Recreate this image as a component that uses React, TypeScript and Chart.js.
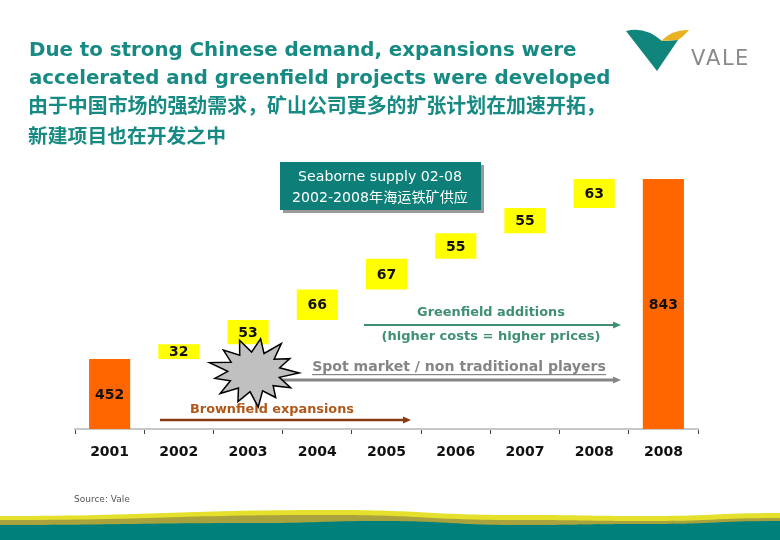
import React, { useEffect, useRef } from 'react';
import { Chart, registerables } from 'chart.js';
Chart.register(...registerables);

const categories = ['2001', '2002', '2003', '2004', '2005', '2006', '2007', '2008', '2008'];
const startTotal = 452;
const increments = [32, 53, 66, 67, 55, 55, 63];
const endTotal = 843;
const axisMin = 300;
const titleLines = [
  'Due to strong Chinese demand, expansions were',
  'accelerated and greenfield projects were developed',
];
const titleLinesZh = ['由于中国市场的强劲需求，矿山公司更多的扩张计划在加速开拓，', '新建项目也在开发之中'];
const boxLines = ['Seaborne supply 02-08', '2002-2008年海运铁矿供应'];

const TEAL = '#178a83';
const ORANGE = '#ff6600';
const YELLOW = '#ffff00';

function buildRanges() {
  const ranges: [number, number][] = [[axisMin, startTotal]];
  let run = startTotal;
  for (const inc of increments) {
    ranges.push([run, run + inc]);
    run += inc;
  }
  ranges.push([axisMin, endTotal]);
  return ranges;
}
const valueLabels = [startTotal, ...increments, endTotal];

function fitText(ctx: CanvasRenderingContext2D, text: string, x: number, y: number, width: number, weight: string, family: string) {
  ctx.font = `${weight} 20px ${family}`;
  const w = ctx.measureText(text).width;
  const size = (20 * width) / w;
  ctx.font = `${weight} ${size}px ${family}`;
  ctx.fillText(text, x, y);
}

function arrowLine(ctx: CanvasRenderingContext2D, x1: number, x2: number, y: number, color: string, lw: number) {
  ctx.save();
  ctx.strokeStyle = color;
  ctx.fillStyle = color;
  ctx.lineWidth = lw;
  ctx.beginPath();
  ctx.moveTo(x1, y);
  ctx.lineTo(x2 - 6, y);
  ctx.stroke();
  ctx.beginPath();
  ctx.moveTo(x2, y);
  ctx.lineTo(x2 - 8, y - 3.5);
  ctx.lineTo(x2 - 8, y + 3.5);
  ctx.closePath();
  ctx.fill();
  ctx.restore();
}

function wave(ctx: CanvasRenderingContext2D, color: string, pts: [number, number][]) {
  ctx.fillStyle = color;
  ctx.beginPath();
  ctx.moveTo(pts[0][0], pts[0][1]);
  for (let i = 1; i < pts.length; i++) {
    const [px, py] = pts[i - 1];
    const [x, y] = pts[i];
    const mx = (px + x) / 2;
    ctx.bezierCurveTo(mx, py, mx, y, x, y);
  }
  ctx.lineTo(780, 540);
  ctx.lineTo(0, 540);
  ctx.closePath();
  ctx.fill();
}

const valuePlugin = {
  id: 'valueLabels',
  afterDatasetsDraw(chart: any) {
    const ctx = chart.ctx as CanvasRenderingContext2D;
    const meta = chart.getDatasetMeta(0);
    ctx.save();
    ctx.fillStyle = '#111';
    ctx.font = 'bold 14px "DejaVu Sans"';
    ctx.textAlign = 'center';
    ctx.textBaseline = 'middle';
    meta.data.forEach((el: any, i: number) => {
      const cy = (el.y + el.base) / 2;
      ctx.fillText(String(valueLabels[i]), el.x, cy + 1);
    });
    ctx.restore();
  },
};

const decoPlugin = {
  id: 'deco',
  beforeDraw(chart: any) {
    const ctx = chart.ctx as CanvasRenderingContext2D;
    ctx.save();
    ctx.fillStyle = '#fff';
    ctx.fillRect(0, 0, chart.width, chart.height);
    ctx.restore();
  },
  afterDraw(chart: any) {
    const ctx = chart.ctx as CanvasRenderingContext2D;
    ctx.save();
    // Titles
    ctx.fillStyle = TEAL;
    ctx.textAlign = 'left';
    ctx.textBaseline = 'middle';
    fitText(ctx, titleLines[0], 29, 51, 548, 'bold', '"DejaVu Sans"');
    fitText(ctx, titleLines[1], 29, 79, 582, 'bold', '"DejaVu Sans"');
    fitText(ctx, titleLinesZh[0], 28, 105, 578, 'bold', '"Noto Sans CJK SC"');
    fitText(ctx, titleLinesZh[1], 28, 135, 198, 'bold', '"Noto Sans CJK SC"');

    // Logo
    ctx.fillStyle = '#0f857b';
    ctx.beginPath();
    ctx.moveTo(626, 31);
    ctx.quadraticCurveTo(645, 26, 662, 41);
    ctx.lineTo(678, 40);
    ctx.lineTo(657, 71);
    ctx.closePath();
    ctx.fill();
    ctx.fillStyle = '#e9b224';
    ctx.beginPath();
    ctx.moveTo(661, 41);
    ctx.quadraticCurveTo(673, 29, 689, 30);
    ctx.quadraticCurveTo(684, 36, 678, 40);
    ctx.closePath();
    ctx.fill();
    ctx.fillStyle = '#8a8a8a';
    ctx.textBaseline = 'alphabetic';
    ctx.textAlign = 'left';
    ctx.font = '21px "DejaVu Sans"';
    const letters = ['V', 'A', 'L', 'E'];
    const lx = [691, 706, 722, 735];
    letters.forEach((l, i) => ctx.fillText(l, lx[i], 65));

    // Teal box
    ctx.fillStyle = '#9a9a9a';
    ctx.fillRect(283, 165, 201, 48);
    ctx.fillStyle = '#0d7f78';
    ctx.fillRect(280, 162, 201, 48);
    ctx.fillStyle = '#fff';
    ctx.textAlign = 'center';
    ctx.textBaseline = 'middle';
    fitText(ctx, boxLines[0], 380, 177, 164, 'normal', '"DejaVu Sans"');
    fitText(ctx, boxLines[1], 380, 198, 176, 'normal', '"DejaVu Sans", "Noto Sans CJK SC"');

    // Greenfield
    const GREEN = '#3f8f72';
    ctx.fillStyle = GREEN;
    fitText(ctx, 'Greenfield additions', 491, 313, 148, 'bold', '"DejaVu Sans"');
    fitText(ctx, '(higher costs = higher prices)', 491, 337, 219, 'bold', '"DejaVu Sans"');
    arrowLine(ctx, 364, 621, 325, GREEN, 2);

    // Spot market
    const GRAY = '#858585';
    ctx.fillStyle = GRAY;
    fitText(ctx, 'Spot market / non traditional players', 459, 367, 294, 'bold', '"DejaVu Sans"');
    ctx.fillRect(312, 374, 294, 1.2);
    arrowLine(ctx, 250, 621, 380, GRAY, 3);

    // Brownfield
    ctx.fillStyle = '#b0581a';
    fitText(ctx, 'Brownfield expansions', 272, 410, 164, 'bold', '"DejaVu Sans"');
    arrowLine(ctx, 160, 411, 420, '#8a3a12', 2.5);

    // Starburst
    const cx = 254, cy = 372;
    const n = 13;
    const outer = [42, 44, 38, 43, 40, 38, 44, 40, 42, 38, 44, 40, 42];
    ctx.beginPath();
    for (let i = 0; i < n * 2; i++) {
      const a = (Math.PI * 2 * i) / (n * 2) - Math.PI / 2 + 0.15;
      const r = i % 2 === 0 ? outer[(i / 2) % n] : 25;
      const px = cx + Math.cos(a) * r * 1.05;
      const py = cy + Math.sin(a) * r * 0.8;
      if (i === 0) ctx.moveTo(px, py);
      else ctx.lineTo(px, py);
    }
    ctx.closePath();
    ctx.fillStyle = '#c0c0c0';
    ctx.fill();
    ctx.strokeStyle = '#000';
    ctx.lineWidth = 1.5;
    ctx.stroke();

    // Source
    ctx.fillStyle = '#555';
    ctx.textAlign = 'left';
    ctx.font = '9px "DejaVu Sans"';
    ctx.fillText('Source: Vale', 74, 500);

    // Bottom wave
    wave(ctx, '#e4e02c', [[0, 516], [330, 510], [520, 515], [650, 516], [780, 513]]);
    wave(ctx, '#aaa23c', [[0, 520], [330, 515], [520, 520], [650, 521], [780, 518]]);
    wave(ctx, '#00807a', [[0, 525], [260, 523], [380, 521], [520, 525], [650, 524], [780, 521]]);
    ctx.restore();
  },
};

export default function App() {
  const ref = useRef<HTMLCanvasElement | null>(null);
  useEffect(() => {
    document.body.style.margin = '0';
    const canvas = ref.current!;
    const chart = new Chart(canvas, {
      type: 'bar',
      data: {
        labels: categories,
        datasets: [
          {
            data: buildRanges() as any,
            backgroundColor: valueLabels.map((_, i) => (i === 0 || i === valueLabels.length - 1 ? ORANGE : YELLOW)),
            borderWidth: 0,
            barPercentage: 0.9,
            categoryPercentage: 0.66,
          },
        ],
      },
      options: {
        responsive: false,
        animation: false,
        layout: { padding: { left: 75, right: 82, top: 179, bottom: 0 } },
        plugins: { legend: { display: false }, tooltip: { enabled: false } },
        scales: {
          x: {
            offset: true,
            grid: { display: true, drawOnChartArea: false, drawTicks: true, tickLength: 5, color: '#444', offset: true },
            border: { display: true, color: '#c8c8c8', width: 2 },
            ticks: { color: '#111', font: { family: '"DejaVu Sans"', size: 14, weight: 'bold' }, padding: 10 },
            afterFit: (s: any) => {
              s.height = 111;
            },
          },
          y: { display: false, min: axisMin, max: endTotal },
        },
      },
      plugins: [decoPlugin, valuePlugin],
    });
    return () => chart.destroy();
  }, []);
  return (
    <div style={{ position: 'fixed', left: 0, top: 0, width: 780, height: 540 }}>
      <canvas ref={ref} width={780} height={540} />
    </div>
  );
}
